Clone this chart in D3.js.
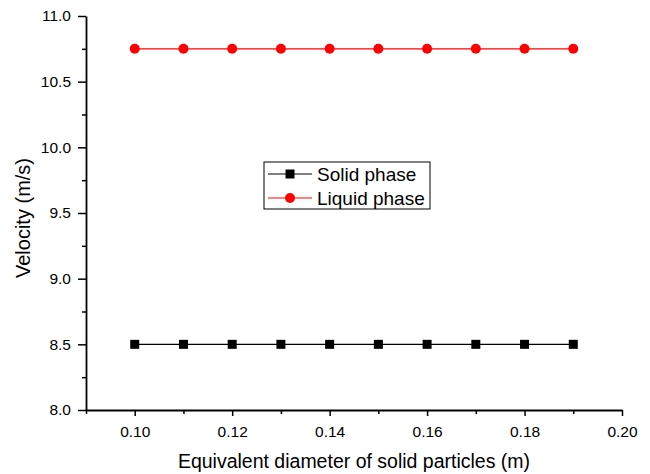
<!DOCTYPE html>
<html>
<head>
<meta charset="utf-8">
<script src="https://cdn.jsdelivr.net/npm/d3@7"></script>
<style>
  body { margin: 0; background: #fff; overflow: hidden; }
  svg { display: block; font-family: "Liberation Sans", Arial, sans-serif; }
</style>
</head>
<body>
<div id="chart"></div>
<script>
// Data
const diameters = [0.10, 0.11, 0.12, 0.13, 0.14, 0.15, 0.16, 0.17, 0.18, 0.19];
const solidVelocity = [8.5, 8.5, 8.5, 8.5, 8.5, 8.5, 8.5, 8.5, 8.5, 8.5];
const liquidVelocity = [10.75, 10.75, 10.75, 10.75, 10.75, 10.75, 10.75, 10.75, 10.75, 10.75];
const xTicks = [0.10, 0.12, 0.14, 0.16, 0.18, 0.20];
const yTicks = [8.0, 8.5, 9.0, 9.5, 10.0, 10.5, 11.0];

const width = 650, height = 474;
const margin = { top: 16, right: 28, bottom: 64, left: 86 };

const svg = d3.select('#chart').append('svg')
  .attr('width', width)
  .attr('height', height);

const g = svg.append('g')
  .attr('transform', `translate(${margin.left},${margin.top})`);

const innerHeight = height - margin.top - margin.bottom;

const x = d3.scaleLinear().domain([0.09, 0.20]).range([0, 536]);
const y = d3.scaleLinear().domain([8.0, 11.0]).range([innerHeight, 0]);

// Minor ticks
g.append('g')
  .attr('transform', `translate(0,${innerHeight})`)
  .call(d3.axisBottom(x).tickValues(d3.range(0.09, 0.2, 0.02)).tickSize(4).tickFormat(''))
  .call(a => a.select('.domain').remove())
  .selectAll('line').attr('stroke-width', 1.5);

g.append('g')
  .call(d3.axisLeft(y).tickValues(d3.range(8.25, 11, 0.5)).tickSize(4).tickFormat(''))
  .call(a => a.select('.domain').remove())
  .selectAll('line').attr('stroke-width', 1.5);

// Major axes
const xAxis = g.append('g')
  .attr('transform', `translate(0,${innerHeight})`)
  .call(d3.axisBottom(x).tickValues(xTicks).tickSize(6).tickSizeOuter(0).tickPadding(10).tickFormat(d3.format('.2f')));

const yAxis = g.append('g')
  .call(d3.axisLeft(y).tickValues(yTicks).tickSize(8).tickSizeOuter(0).tickPadding(7).tickFormat(d3.format('.1f')));

[xAxis, yAxis].forEach(a => {
  a.selectAll('.domain').attr('stroke-width', 1.8);
  a.selectAll('line').attr('stroke-width', 1.5);
  a.selectAll('text').style('font-size', '15.5px').attr('fill', '#000');
});

// Axis titles
svg.append('text')
  .attr('x', 354)
  .attr('y', 468)
  .attr('text-anchor', 'middle')
  .style('font-size', '19.5px')
  .text('Equivalent diameter of solid particles (m)');

svg.append('text')
  .attr('transform', `translate(30,218) rotate(-90)`)
  .attr('text-anchor', 'middle')
  .style('font-size', '20px')
  .text('Velocity (m/s)');

// Series
const series = [
  { name: 'Solid phase', values: solidVelocity, color: '#000', shape: 'square' },
  { name: 'Liquid phase', values: liquidVelocity, color: '#ff0000', shape: 'circle' }
];

const line = d3.line()
  .x((d, i) => x(diameters[i]))
  .y(d => y(d));

function drawMarker(sel, shape, color) {
  if (shape === 'square') {
    sel.append('rect')
      .attr('x', -4.5).attr('y', -4.5)
      .attr('width', 9).attr('height', 9)
      .attr('fill', color);
  } else {
    sel.append('circle').attr('r', 5).attr('fill', color);
  }
}

series.forEach(s => {
  g.append('path')
    .datum(s.values)
    .attr('fill', 'none')
    .attr('stroke', s.color)
    .attr('stroke-width', 1.2)
    .attr('d', line);

  g.selectAll(null)
    .data(s.values)
    .enter()
    .append('g')
    .attr('transform', (d, i) => `translate(${x(diameters[i])},${y(d)})`)
    .each(function () { drawMarker(d3.select(this), s.shape, s.color); });
});

// Legend
const legend = svg.append('g').attr('transform', 'translate(264,162)');
legend.append('rect')
  .attr('width', 166).attr('height', 47)
  .attr('fill', '#fff')
  .attr('stroke', '#000')
  .attr('stroke-width', 1);

series.forEach((s, i) => {
  const item = legend.append('g').attr('transform', `translate(0,${12 + i * 24})`);
  item.append('line')
    .attr('x1', 4).attr('x2', 48)
    .attr('stroke', s.color)
    .attr('stroke-width', 1.2);
  const m = item.append('g').attr('transform', 'translate(26,0)');
  drawMarker(m, s.shape, s.color);
  item.append('text')
    .attr('x', 53)
    .attr('dy', '0.35em')
    .style('font-size', '19px')
    .text(s.name);
});
</script>
</body>
</html>
